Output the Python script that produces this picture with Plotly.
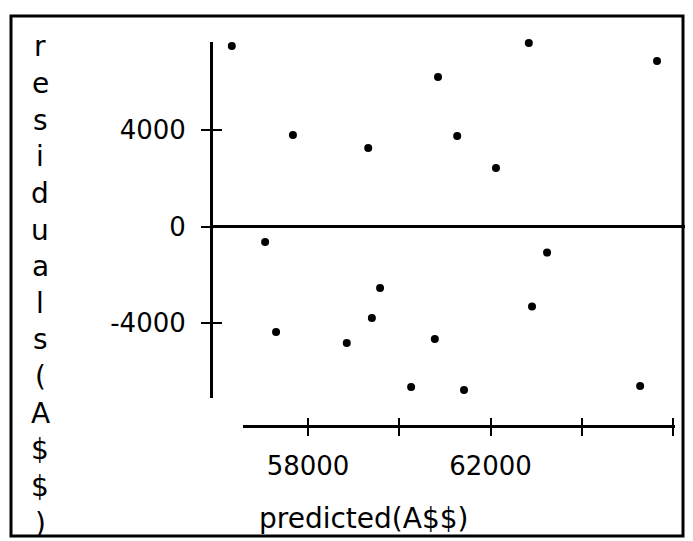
import plotly.graph_objects as go

# data
predicted = [56330, 57670, 57060, 57300, 58850, 59320, 59400, 59580, 60260, 60850,
             60780, 61270, 61420, 62120, 62840, 62910, 63240, 65650, 65280]
residuals = [7480, 3790, -640, -4370, -4830, 3250, -3790, -2550, -6650, 6200,
             -4660, 3750, -6780, 2430, 7610, -3320, -1080, 6860, -6610]

x_tickvals = [58000, 60000, 62000, 64000, 66000]
x_ticktext = ["58000", "", "62000", "", ""]
y_tickvals = [4000, 0, -4000]
y_ticktext = ["4000", "0", "-4000"]
y_title = "residuals(A$$)"
x_title = "predicted(A$$)"

W, H = 693, 541
FONT = "DejaVu Sans"

def px(v):
    return v / W

def py(v):
    return 1 - v / H

fig = go.Figure()
fig.add_trace(go.Scatter(x=predicted, y=residuals, mode="markers",
                         marker=dict(color="black", size=8, symbol="circle"),
                         cliponaxis=False,
                         xaxis="x", yaxis="y", showlegend=False, hoverinfo="skip"))
# empty traces so that the drawn x axes exist
fig.add_trace(go.Scatter(x=[], y=[], xaxis="x2", yaxis="y", showlegend=False))
fig.add_trace(go.Scatter(x=[], y=[], xaxis="x3", yaxis="y", showlegend=False))
fig.add_trace(go.Scatter(x=[], y=[], xaxis="x", yaxis="y2", showlegend=False))

yrange = [-7109, 7648]
x2range = [56575, 66044]

fig.update_layout(
    width=W, height=H,
    margin=dict(l=0, r=0, t=0, b=0),
    paper_bgcolor="white", plot_bgcolor="rgba(0,0,0,0)",
    font=dict(family=FONT, color="black"),
    xaxis=dict(domain=[px(213), px(685)], range=[55918, 66263], visible=False,
               showgrid=False, zeroline=False),
    yaxis=dict(domain=[py(398), py(42)], range=yrange, showgrid=False,
               showline=True, linecolor="black", linewidth=3,
               zeroline=True, zerolinecolor="black", zerolinewidth=3,
               ticks="outside", ticklen=9, tickwidth=2, tickcolor="black",
               tickvals=y_tickvals, ticktext=y_ticktext,
               tickfont=dict(family=FONT, size=26, color="black"),
               ticklabelstandoff=10),
    yaxis2=dict(overlaying="y", range=yrange, showgrid=False, zeroline=False,
                showline=False, ticks="inside", ticklen=9, tickwidth=2,
                tickcolor="black", tickvals=y_tickvals, showticklabels=False),
    xaxis2=dict(domain=[px(243), px(675)], range=x2range, anchor="free",
                position=py(426), showgrid=False, zeroline=False,
                showline=True, linecolor="black", linewidth=3,
                ticks="outside", ticklen=8, tickwidth=2, tickcolor="black",
                tickvals=x_tickvals, ticktext=x_ticktext,
                tickfont=dict(family=FONT, size=26, color="black"),
                ticklabelstandoff=8),
    xaxis3=dict(overlaying="x2", range=x2range, anchor="free", position=py(426),
                showgrid=False, zeroline=False, showline=False,
                ticks="inside", ticklen=8, tickwidth=2, tickcolor="black",
                tickvals=x_tickvals, showticklabels=False, side="bottom"),
    shapes=[dict(type="rect", xref="paper", yref="paper",
                 x0=px(11), x1=px(683), y0=py(536), y1=py(16),
                 line=dict(color="black", width=3))],
)

n = len(y_title)
top, bottom = 47, 523
for i, ch in enumerate(y_title):
    yc = top + (bottom - top) * i / (n - 1)
    fig.add_annotation(text=ch, xref="paper", yref="paper", x=px(40), y=py(yc),
                       xanchor="center", yanchor="middle", showarrow=False,
                       font=dict(family=FONT, size=28, color="black"))

fig.add_annotation(text=x_title, xref="paper", yref="paper", x=px(363), y=py(518),
                   xanchor="center", yanchor="middle", showarrow=False,
                   font=dict(family=FONT, size=28, color="black"))

fig.write_html("out.html",
               config={"displayModeBar": False},
               post_script="document.body.style.margin='0';"
                           "document.body.style.padding='0';"
                           "document.body.style.overflow='hidden';")
